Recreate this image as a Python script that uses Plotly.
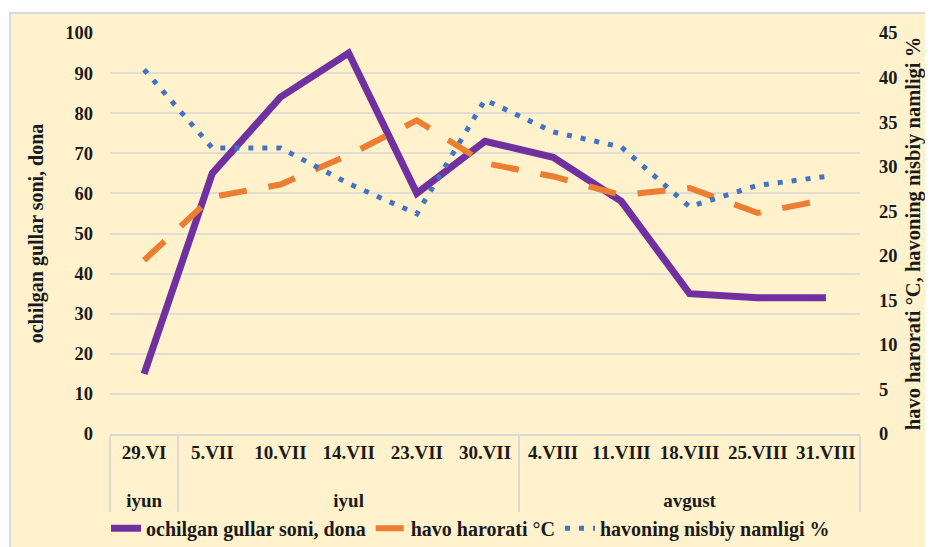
import plotly.graph_objs as go

# categories: month groups and dates
months = ['iyun', 'iyul', 'iyul', 'iyul', 'iyul', 'iyul',
          'avgust', 'avgust', 'avgust', 'avgust', 'avgust']
dates = ['29.VI', '5.VII', '10.VII', '14.VII', '23.VII', '30.VII',
         '4.VIII', '11.VIII', '18.VIII', '25.VIII', '31.VIII']

# series values
flowers = [15, 65, 84, 95, 60, 73, 69, 58, 35, 34, 34]           # left axis
temperature = [19.5, 26.6, 28.0, 31.3, 35.2, 30.4, 28.9, 26.8, 27.6, 24.8, 26.3]  # right axis
humidity = [40.9, 32.1, 32.1, 28.1, 24.7, 37.5, 33.9, 32.2, 25.5, 27.9, 28.9]     # right axis


def serif(size):
    return dict(family='Liberation Serif', size=size, color='#1a1a1a', weight='bold')


cream = '#FFF2CC'
# leading line break pushes the month row further down, as in the original
x = [['<br>' + m for m in months], dates]

data = [
    go.Scatter(x=x, y=flowers, name='ochilgan gullar soni, dona',
               mode='lines', line=dict(color='#7030A0', width=7)),
    go.Scatter(x=x, y=temperature, name='havo harorati °C',
               mode='lines', yaxis='y2',
               line=dict(color='#ED7D31', width=6, dash='28px,22px')),
    go.Scatter(x=x, y=humidity, name='havoning nisbiy namligi %',
               mode='lines', yaxis='y2',
               line=dict(color='#4472C4', width=5, dash='5px,9px')),
]

# page body adds 8px around the figure, so the figure is 8px smaller
layout = go.Layout(
    width=925, height=539,
    margin=dict(l=102, r=73, t=25, b=113),
    paper_bgcolor='white',
    plot_bgcolor='rgba(0,0,0,0)',
    font=serif(17),
    showlegend=True,
    legend=dict(orientation='h', x=0.5, xref='container', xanchor='center',
                y=0.035, yref='container', yanchor='middle',
                font=serif(20), bgcolor='rgba(0,0,0,0)'),
    xaxis=dict(type='multicategory', tickfont=serif(19), tickangle=0,
               showgrid=False, automargin=False, range=[-0.5, 10.5],
               showline=True, linecolor='#D9D9D9', linewidth=2,
               showdividers=True, dividercolor='#D9D9D9', dividerwidth=2,
               ticks=''),
    yaxis=dict(range=[0, 100], dtick=10, tickfont=serif(18.5), automargin=False,
               gridcolor='#E2DED3', gridwidth=2, zeroline=False, ticklabelstandoff=16,
               title=dict(text='ochilgan gullar soni, dona', font=serif(20), standoff=16)),
    yaxis2=dict(range=[0, 45], dtick=5, tickfont=serif(18.5), overlaying='y', side='right',
                showgrid=False, zeroline=False, automargin=False, ticklabelstandoff=18,
                title=dict(text='havo harorati °C, havoning nisbiy namligi %', font=serif(20.5),
                           standoff=9)),
    shapes=[dict(type='rect', xref='paper', yref='paper',
                 x0=-0.1333, x1=1.2, y0=-0.35, y1=1.0499,
                 line=dict(color='#D9D9D9', width=2), fillcolor=cream, layer='below')],
)

fig = go.Figure(data=data, layout=layout)
fig.write_html('out.html')
